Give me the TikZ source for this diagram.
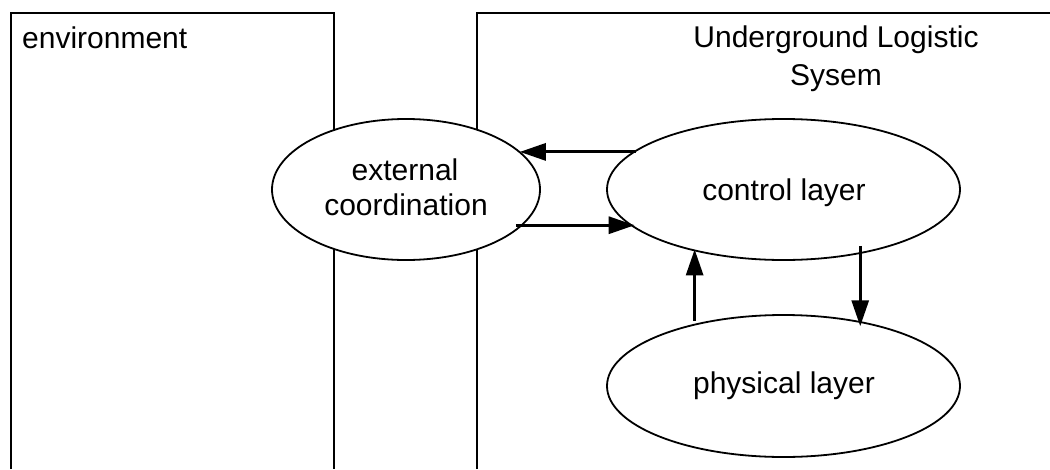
\documentclass[tikz,border=0pt]{standalone}
\usepackage{fontspec}
\setmainfont{Liberation Sans}
\usetikzlibrary{shapes.geometric,arrows.meta}
\tikzset{
  boxline/.style={line width=1.4pt},
  layer/.style={ellipse,draw,fill=white,line width=1.8pt,inner sep=0pt},
  lbl/.style={anchor=base,inner sep=0pt,font=\fontsize{30}{34}\selectfont},
  arr/.style={line width=3pt,-{Triangle[length=26pt,width=17pt]}}
}
\begin{document}
\begin{tikzpicture}[x=1pt,y=-1pt]
\useasboundingbox (0,0) rectangle (1050,469);
% boxes
\draw[boxline] (11,469) -- (11,13) -- (334,13) -- (334,469);
\draw[boxline] (477,469) -- (477,13) -- (1050,13);
% ellipses
\node[layer,minimum width=268pt,minimum height=141pt] (ext) at (406,189.5) {};
\node[layer,minimum width=353pt,minimum height=141pt] (ctrl) at (783.5,189.5) {};
\node[layer,minimum width=353pt,minimum height=142pt] (phys) at (783.5,386) {};
% labels
\node[lbl,anchor=base west] (tenv) at (22,48) {environment};
\node[lbl] (tuls1) at (836,47) {Underground Logistic};
\node[lbl] (tuls2) at (836,85) {Sysem};
\node[lbl] (text1) at (405,180) {external};
\node[lbl] (text2) at (406,215) {coordination};
\node[lbl] (tctrl) at (784,200) {control layer};
\node[lbl] (tphys) at (784,393) {physical layer};
% arrows
\draw[arr] ([xshift=3pt]ctrl.166.4) -- ([xshift=-3pt]ext.17.7 |- ctrl.166.4);
\draw[arr] ([xshift=-7pt]ext.-17.7) -- ([xshift=2pt]ctrl.-166.4 |- ext.-17.7);
\draw[arr] ([yshift=3pt]phys.145.6) -- ([yshift=2pt]ctrl.-145.8 -| phys.145.6);
\draw[arr] ([yshift=8pt]ctrl.-40.2) -- ([yshift=-5pt]phys.40.4 -| ctrl.-40.2);
\end{tikzpicture}
\end{document}
